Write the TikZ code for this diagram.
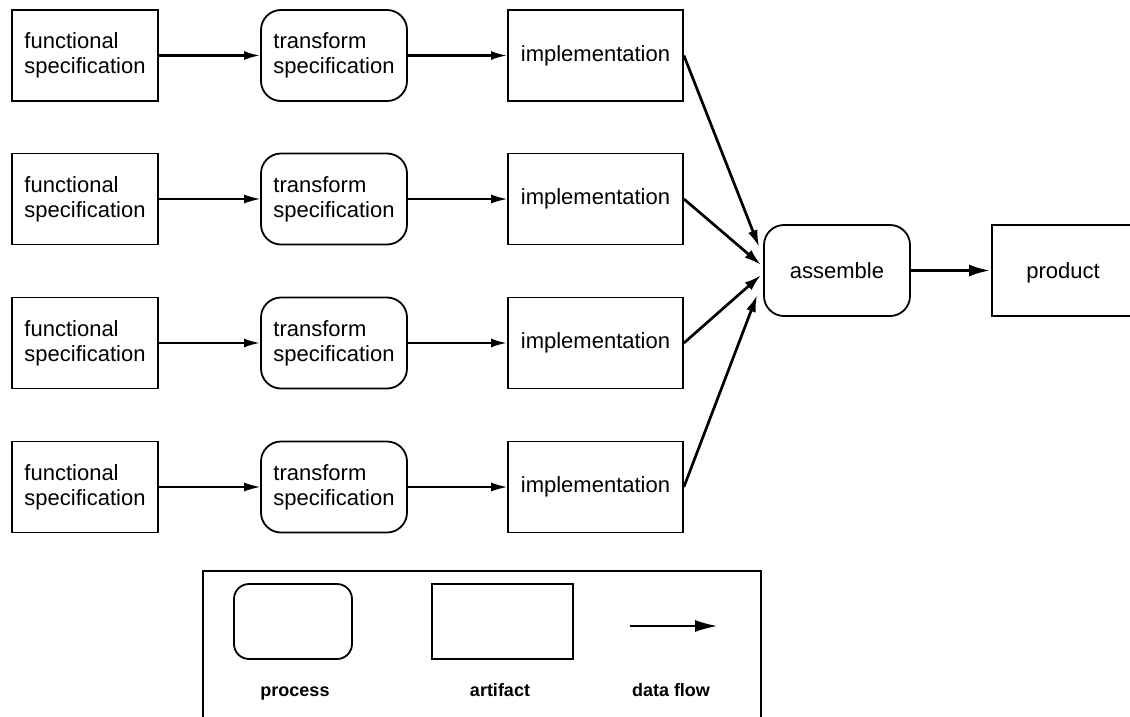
\documentclass[tikz,border=0pt]{standalone}
\usepackage{fontspec}
\setmainfont{Liberation Sans}
\usetikzlibrary{arrows.meta}

\begin{document}
\begin{tikzpicture}[x=1pt,y=-1pt,
	artifact/.style={draw,line width=1.8pt,minimum width=146pt,minimum height=91pt,inner sep=0pt,align=left,font=\fontsize{22}{25}\selectfont},
	process/.style={artifact,rounded corners=20pt},
	thinflow/.style={line width=1.4pt,-{Latex[length=16pt,width=9pt]}},
	thickflow/.style={line width=2.3pt,-{Latex[length=16pt,width=9pt]}},
	joinflow/.style={line width=2.7pt,-{Latex[length=17pt,width=10pt]}},
	keytext/.style={anchor=base,font=\fontsize{18}{20}\selectfont\bfseries}]
			\useasboundingbox (0,0) rectangle (1130,717);
			\clip (0,0) rectangle (1130,717);
			\node [artifact] (fs1) at (85,55.5) {functional\\specification};
			\node [process] (tr1) at (334,55.5) {transform\\specification};
			\node [artifact,minimum width=175pt] (impl1) at (595.5,55.5) {implementation};
			\node [artifact] (fs2) at (85,199) {functional\\specification};
			\node [process] (tr2) at (334,199) {transform\\specification};
			\node [artifact,minimum width=175pt] (impl2) at (595.5,199) {implementation};
			\node [artifact] (fs3) at (85,343) {functional\\specification};
			\node [process] (tr3) at (334,343) {transform\\specification};
			\node [artifact,minimum width=175pt] (impl3) at (595.5,343) {implementation};
			\node [artifact] (fs4) at (85,487) {functional\\specification};
			\node [process] (tr4) at (334,487) {transform\\specification};
			\node [artifact,minimum width=175pt] (impl4) at (595.5,487) {implementation};
			\node [process] (asm) at (837,270.5) {assemble};
			\node [artifact,minimum width=142pt,text depth=0pt] (prod) at (1063,270.5) {product};
			\draw [thickflow] (fs1) -- (tr1);
			\draw [thickflow] (tr1) -- (impl1);
			\draw [thinflow] (fs2) -- (tr2);
			\draw [thinflow] (tr2) -- (impl2);
			\draw [thickflow] (fs3) -- (tr3);
			\draw [thickflow] (tr3) -- (impl3);
			\draw [thinflow] (fs4) -- (tr4);
			\draw [thinflow] (tr4) -- (impl4);
			\draw [joinflow] (impl1.east) -- ([xshift=-4pt,yshift=23.5pt]asm.west);
			\draw [joinflow] (impl2.east) -- ([xshift=-2pt,yshift=5.5pt]asm.west);
			\draw [joinflow] (impl3.east) -- ([xshift=-2pt,yshift=-4.5pt]asm.west);
			\draw [joinflow] (impl4.east) -- ([xshift=-6pt,yshift=-24.5pt]asm.west);
			\draw [line width=3.6pt,-{Latex[length=22pt,width=12pt]}] (asm) -- (prod);
			\node [draw,line width=2.2pt,anchor=north west,minimum width=558pt,minimum height=170pt] (legend) at (202,570) {};
			\node [process,minimum width=118pt,minimum height=75pt,rounded corners=15pt] (lproc) at (293,621.5) {};
			\node [artifact,minimum width=141pt,minimum height=75pt] (lart) at (502.5,621.5) {};
			\coordinate (lfa) at (630,626);
			\coordinate (lfb) at (717,626);
			\draw [line width=1.4pt,-{Latex[length=22pt,width=12pt]}] (lfa) -- (lfb);
			\node [keytext] (tproc) at (295,696) {process};
			\node [keytext] (tart) at (500,696) {artifact};
			\node [keytext] (tflow) at (671,696) {data flow};
			\end{tikzpicture}
\end{document}
